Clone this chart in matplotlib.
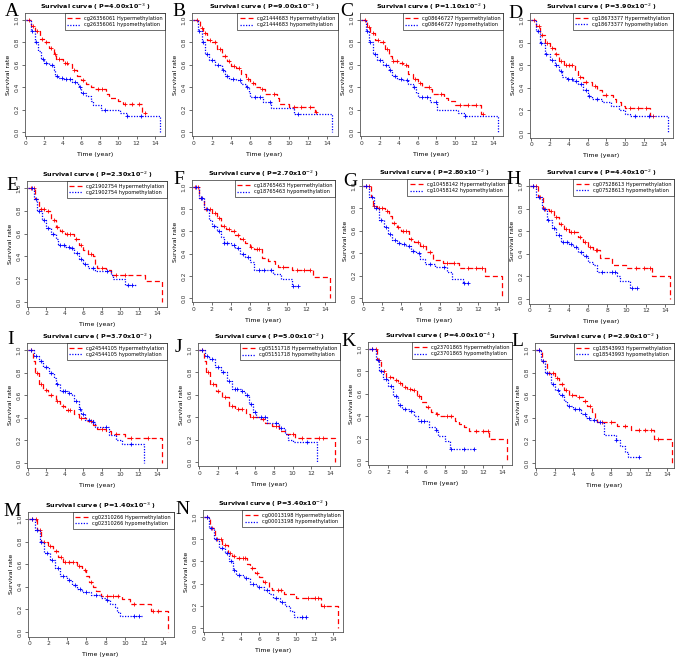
import numpy as np
import matplotlib
matplotlib.use("Agg")
import matplotlib.pyplot as plt

# panel meta
letters = ["A", "B", "C", "D", "E", "F", "G", "H", "I", "J", "K", "L", "M", "N"]
probes = ["cg26356061", "cg21444683", "cg08646727", "cg18673377", "cg21902754",
          "cg18765463", "cg10458142", "cg07528613", "cg24544105", "cg05151718",
          "cg23701865", "cg18543993", "cg02310266", "cg00013198"]
p_mant = ["4.00", "9.00", "1.10", "3.90", "2.30", "2.70", "2.80", "4.40",
          "3.70", "5.00", "4.00", "2.90", "1.40", "3.40"]
p_exp = ["-3", "-3", "-2", "-2", "-2", "-2", "-2", "-2", "-2", "-2", "-4", "-2", "-3", "-2"]

# step curves: (time, survival from that time on)
A_hyper = [(0, 1.0), (0.5, 0.95), (1, 0.9), (1.5, 0.83), (2, 0.8), (2.5, 0.75), (3, 0.7), (3.3, 0.65),
           (4, 0.62), (4.5, 0.61), (5, 0.55), (5.5, 0.5), (6, 0.46), (6.5, 0.43), (7, 0.4), (7.5, 0.38),
           (8.7, 0.34), (9, 0.3), (10, 0.28), (10.5, 0.25), (12.6, 0.17), (13, 0.17)]
A_hypo = [(0, 1.0), (0.5, 0.9), (1, 0.8), (1.3, 0.72), (1.6, 0.65), (2, 0.62), (2.5, 0.6), (3, 0.55),
          (3.2, 0.5), (3.5, 0.48), (4, 0.47), (5, 0.45), (5.5, 0.43), (5.8, 0.4), (6, 0.35), (6.5, 0.32),
          (7, 0.28), (7.3, 0.24), (8.1, 0.2), (10.2, 0.17), (11, 0.14), (14.5, 0.0)]
A_hyper_cens = [0.3, 0.8, 1.2, 1.7, 2.2, 2.7, 3.1, 3.6, 4.2, 4.4, 5.2, 6.2, 7.8, 8.3, 10.7, 11.5, 12.3, 12.9]
A_hypo_cens = [0.7, 1.1, 1.8, 2.2, 2.8, 3.4, 3.9, 4.3, 4.8, 5.3, 5.9, 6.2, 8.6, 11.0, 12.5]

B_hyper = [(0, 1.0), (0.7, 0.93), (1, 0.88), (1.5, 0.82), (2, 0.8), (2.5, 0.74), (3, 0.68), (3.5, 0.63),
           (4, 0.59), (4.5, 0.57), (5, 0.52), (5.5, 0.47), (6, 0.44), (6.5, 0.4), (7, 0.38), (7.5, 0.34),
           (8.8, 0.3), (9, 0.25), (10, 0.22), (12.7, 0.18), (13, 0.18)]
B_hypo = [(0, 1.0), (0.5, 0.9), (0.9, 0.8), (1.3, 0.7), (1.7, 0.64), (2.3, 0.6), (3, 0.55), (3.3, 0.5),
          (3.8, 0.47), (4.5, 0.46), (5, 0.43), (5.5, 0.4), (5.8, 0.35), (6, 0.31), (7.3, 0.27), (8.1, 0.21),
          (10.5, 0.16), (14.5, 0.0)]
B_hyper_cens = [0.4, 0.9, 1.3, 1.8, 2.3, 2.8, 3.3, 3.8, 4.3, 4.8, 5.7, 6.3, 7.2, 8.5, 10.5, 11.3, 12.2, 12.9]
B_hypo_cens = [0.6, 1.0, 1.5, 2.0, 2.6, 3.1, 3.6, 4.2, 4.9, 5.6, 6.5, 7.0, 8.0, 11.0]

C_hyper = [(0, 1.0), (0.6, 0.94), (1, 0.88), (1.5, 0.82), (2, 0.8), (2.5, 0.74), (3, 0.68), (3.3, 0.63),
           (4, 0.62), (4.5, 0.6), (5, 0.52), (5.5, 0.47), (6, 0.44), (6.5, 0.4), (7.3, 0.38), (7.5, 0.34),
           (8.8, 0.3), (9.2, 0.28), (10, 0.24), (12.7, 0.16), (13, 0.16)]
C_hypo = [(0, 1.0), (0.5, 0.9), (0.9, 0.8), (1.3, 0.7), (1.7, 0.64), (2.3, 0.6), (3, 0.55), (3.3, 0.5),
          (3.8, 0.47), (4.5, 0.46), (5, 0.43), (5.5, 0.4), (5.8, 0.35), (6, 0.31), (7.3, 0.27), (8.1, 0.2),
          (10.3, 0.17), (11, 0.14), (14.5, 0.0)]
C_hyper_cens = [0.4, 0.9, 1.3, 1.8, 2.3, 2.8, 3.4, 3.8, 4.3, 4.8, 5.7, 6.3, 7.2, 8.5, 10.5, 11.3, 12.2, 12.9]
C_hypo_cens = [0.6, 1.0, 1.5, 2.0, 2.6, 3.1, 3.6, 4.2, 4.9, 5.6, 6.5, 7.0, 8.0, 11.0]

D_hyper = [(0, 1.0), (0.5, 0.95), (1, 0.87), (1.5, 0.8), (2, 0.75), (2.5, 0.7), (3, 0.64), (3.5, 0.6),
           (4.7, 0.55), (5, 0.5), (5.5, 0.45), (6.5, 0.42), (7, 0.38), (7.5, 0.34), (8.7, 0.3), (9, 0.27),
           (9.5, 0.24), (10, 0.22), (12.6, 0.15), (13, 0.15)]
D_hypo = [(0, 1.0), (0.5, 0.9), (1, 0.8), (1.5, 0.7), (2, 0.65), (2.5, 0.6), (3, 0.55), (3.3, 0.5),
          (3.8, 0.48), (4.5, 0.46), (5, 0.43), (5.5, 0.38), (6, 0.33), (6.5, 0.3), (7.5, 0.27), (8.5, 0.24),
          (9.3, 0.2), (10, 0.17), (10.5, 0.15), (14.5, 0.0)]
D_hyper_cens = [0.3, 0.8, 1.2, 1.7, 2.2, 2.7, 3.2, 3.7, 4.0, 4.4, 5.2, 5.8, 6.8, 8.0, 10.5, 11.3, 12.2, 12.9]
D_hypo_cens = [0.7, 1.1, 1.6, 2.2, 2.7, 3.2, 3.9, 4.4, 4.8, 5.3, 5.8, 6.2, 7.0, 11.0, 12.5]

E_hyper = [(0, 1.0), (0.8, 0.9), (1.2, 0.82), (2, 0.8), (2.5, 0.72), (3, 0.66), (3.5, 0.62), (4, 0.6),
           (5, 0.55), (5.5, 0.5), (6, 0.46), (6.5, 0.42), (7, 0.4), (7.3, 0.33), (7.5, 0.3), (8.5, 0.28),
           (9, 0.24), (12.7, 0.18), (14.5, 0.0)]
E_hypo = [(0, 1.0), (0.6, 0.9), (1, 0.8), (1.5, 0.72), (2, 0.65), (2.5, 0.6), (3, 0.55), (3.3, 0.5),
          (4, 0.48), (4.5, 0.47), (5, 0.43), (5.5, 0.38), (6, 0.33), (6.5, 0.3), (7.3, 0.27), (9, 0.24),
          (9.2, 0.2), (10.5, 0.15), (11.7, 0.15)]
E_hyper_cens = [0.3, 0.7, 1.4, 1.7, 2.2, 2.8, 3.2, 3.7, 4.2, 4.6, 5.2, 5.8, 6.8, 8.0, 9.6, 10.5]
E_hypo_cens = [0.4, 0.9, 1.2, 1.7, 2.2, 2.7, 3.5, 3.9, 4.4, 4.8, 5.3, 5.8, 6.2, 7.0, 8.6, 10.8, 11.3]

F_hyper = [(0, 1.0), (0.6, 0.9), (1.2, 0.8), (2, 0.77), (2.5, 0.72), (3, 0.65), (3.5, 0.62), (4, 0.6),
           (4.5, 0.57), (5, 0.53), (5.5, 0.5), (6, 0.46), (6.5, 0.44), (7.3, 0.36), (8, 0.33), (8.7, 0.3),
           (9, 0.28), (10.5, 0.25), (12.7, 0.19), (14.5, 0.0)]
F_hypo = [(0, 1.0), (0.6, 0.9), (1.2, 0.8), (1.7, 0.7), (2, 0.65), (2.5, 0.6), (3, 0.55), (3.3, 0.5),
          (4, 0.48), (4.5, 0.45), (5, 0.4), (5.5, 0.37), (6, 0.32), (6.5, 0.25), (8.5, 0.22), (9.3, 0.17),
          (10.5, 0.11), (11.1, 0.11)]
F_hyper_cens = [0.2, 0.5, 0.9, 1.4, 1.8, 2.3, 2.8, 3.3, 3.8, 4.3, 4.8, 5.3, 6.2, 6.8, 7.0, 9.5, 11.0, 11.8, 12.4]
F_hypo_cens = [0.3, 0.8, 1.0, 1.5, 2.2, 2.8, 3.3, 3.6, 4.3, 4.8, 5.3, 5.8, 7.0, 7.5, 8.3, 10.6, 11.1]

G_hyper = [(0, 1.0), (0.8, 0.9), (1, 0.82), (1.5, 0.8), (2.3, 0.78), (2.7, 0.73), (3, 0.67), (3.5, 0.63),
           (4, 0.6), (4.8, 0.53), (5.3, 0.5), (6, 0.46), (6.6, 0.41), (7.3, 0.34), (8.4, 0.31), (10, 0.27),
           (12.7, 0.2), (14.5, 0.0)]
G_hypo = [(0, 1.0), (0.6, 0.9), (1.2, 0.8), (1.7, 0.7), (2.2, 0.63), (2.6, 0.57), (3, 0.52), (3.5, 0.49),
          (4, 0.48), (4.5, 0.46), (5, 0.42), (5.5, 0.4), (6, 0.35), (6.5, 0.3), (7.5, 0.28), (8.8, 0.23),
          (9.3, 0.17), (10.4, 0.13), (11, 0.13)]
G_hyper_cens = [0.3, 0.6, 1.2, 1.7, 2.0, 2.5, 3.2, 3.7, 4.2, 4.5, 5.0, 5.7, 6.3, 7.0, 8.8, 9.5, 11.0, 11.8, 12.4]
G_hypo_cens = [0.3, 0.9, 1.4, 1.9, 2.4, 2.8, 3.3, 3.8, 4.3, 4.8, 5.2, 5.8, 7.0, 8.5, 10.6, 11.0]

H_hyper = [(0, 1.0), (0.8, 0.9), (1.3, 0.8), (2, 0.78), (2.5, 0.73), (3, 0.66), (3.5, 0.62), (4, 0.59),
           (5, 0.55), (5.5, 0.5), (6, 0.46), (6.5, 0.43), (7.3, 0.36), (8.5, 0.3), (10, 0.27), (12.7, 0.2),
           (14.5, 0.0)]
H_hypo = [(0, 1.0), (0.6, 0.9), (1.2, 0.8), (1.8, 0.7), (2.3, 0.63), (2.7, 0.57), (3.2, 0.5), (4, 0.49),
          (4.5, 0.46), (5, 0.42), (5.5, 0.38), (6, 0.33), (6.5, 0.3), (7, 0.24), (9, 0.2), (9.3, 0.16),
          (10.4, 0.1), (11.1, 0.1)]
H_hyper_cens = [0.3, 0.6, 1.0, 1.6, 2.2, 2.7, 3.2, 3.7, 4.2, 4.6, 5.2, 5.7, 6.2, 6.8, 7.0, 11.0, 11.8, 12.4]
H_hypo_cens = [0.3, 0.9, 1.4, 1.9, 2.5, 3.0, 3.4, 3.8, 4.3, 4.8, 5.3, 5.8, 7.5, 8.5, 8.8, 10.6, 11.1]

I_hyper = [(0, 1.0), (0.5, 0.9), (0.8, 0.8), (1.2, 0.7), (1.6, 0.65), (2.2, 0.6), (3, 0.55), (3.5, 0.5),
           (4, 0.47), (5, 0.43), (5.5, 0.4), (6.3, 0.37), (7, 0.34), (7.5, 0.3), (8.5, 0.28), (9, 0.26),
           (10.5, 0.22), (14.5, 0.0)]
I_hypo = [(0, 1.0), (0.7, 0.95), (1.2, 0.9), (1.6, 0.85), (2.3, 0.8), (2.8, 0.75), (3, 0.7), (3.5, 0.64),
          (4.3, 0.62), (4.8, 0.6), (5, 0.55), (5.5, 0.48), (5.8, 0.43), (6.2, 0.38), (7, 0.36), (7.3, 0.32),
          (8.8, 0.25), (9.5, 0.2), (10.2, 0.17), (12.6, 0.0)]
I_hyper_cens = [0.3, 1.0, 1.4, 1.9, 2.5, 3.2, 3.8, 4.3, 4.6, 5.8, 6.8, 8.0, 9.5, 11.2, 13.0]
I_hypo_cens = [0.3, 0.9, 1.4, 2.0, 2.5, 3.2, 3.8, 4.0, 4.5, 5.2, 5.6, 6.0, 6.6, 7.0, 8.5, 11.2]

J_hyper = [(0, 1.0), (0.5, 0.9), (0.8, 0.8), (1.2, 0.7), (1.8, 0.63), (2.5, 0.58), (3.2, 0.5), (3.8, 0.47),
           (5, 0.43), (5.5, 0.4), (6.5, 0.38), (7, 0.35), (7.8, 0.32), (8.5, 0.28), (9.2, 0.25), (10.3, 0.21),
           (14.5, 0.0)]
J_hypo = [(0, 1.0), (0.6, 0.95), (1.1, 0.92), (1.7, 0.85), (2.3, 0.8), (3, 0.72), (3.5, 0.65), (4.5, 0.63),
          (4.9, 0.6), (5.3, 0.52), (5.8, 0.45), (6.1, 0.4), (7.3, 0.35), (8.5, 0.3), (9.2, 0.25), (9.5, 0.2),
          (10, 0.18), (12.6, 0.0)]
J_hyper_cens = [0.3, 1.0, 1.5, 2.0, 2.8, 3.5, 4.2, 4.6, 5.8, 6.8, 8.2, 10.0, 11.0, 12.8, 13.2]
J_hypo_cens = [0.3, 0.9, 1.4, 2.0, 2.6, 3.2, 3.8, 4.1, 4.6, 5.1, 5.6, 6.0, 6.6, 7.0, 8.2, 8.8, 11.5]

K_hyper = [(0, 1.0), (0.8, 0.9), (1.3, 0.8), (1.8, 0.75), (2.5, 0.72), (3, 0.7), (3.5, 0.66), (4, 0.64),
           (4.5, 0.63), (5, 0.58), (5.5, 0.53), (6, 0.48), (6.5, 0.44), (7, 0.42), (7.5, 0.4), (9, 0.36),
           (9.5, 0.33), (10, 0.3), (10.5, 0.27), (12.6, 0.2), (14.5, 0.0)]
K_hypo = [(0, 1.0), (0.7, 0.9), (1.1, 0.8), (1.5, 0.73), (2, 0.67), (2.5, 0.58), (3, 0.5), (3.5, 0.46),
          (4.2, 0.45), (4.7, 0.4), (5.2, 0.36), (6.3, 0.3), (7, 0.28), (7.3, 0.22), (8, 0.18), (8.5, 0.11),
          (11, 0.11)]
K_hyper_cens = [0.3, 0.7, 1.1, 1.6, 2.2, 2.8, 3.3, 3.8, 4.3, 4.7, 5.3, 6.2, 7.2, 8.2, 8.6, 11.3, 12.0, 12.5]
K_hypo_cens = [0.3, 0.9, 1.3, 1.8, 2.3, 2.8, 3.3, 3.8, 4.4, 5.5, 5.8, 7.0, 8.6, 10.0, 11.0]

L_hyper = [(0, 1.0), (0.6, 0.9), (1.2, 0.8), (2, 0.75), (2.5, 0.7), (3, 0.65), (3.5, 0.6), (4.3, 0.58),
           (5, 0.55), (5.5, 0.5), (6, 0.45), (6.3, 0.4), (6.5, 0.36), (8.7, 0.33), (10.2, 0.29), (12.6, 0.21),
           (14.5, 0.0)]
L_hypo = [(0, 1.0), (0.5, 0.9), (1, 0.8), (1.6, 0.7), (2, 0.65), (2.5, 0.6), (3, 0.55), (3.3, 0.5),
          (4, 0.48), (4.8, 0.43), (5.3, 0.4), (5.8, 0.38), (6.5, 0.36), (7, 0.35), (7.3, 0.25), (8.5, 0.2),
          (9, 0.15), (9.5, 0.1), (9.8, 0.05), (11.1, 0.05)]
L_hyper_cens = [0.3, 0.8, 1.4, 1.8, 2.2, 2.8, 3.2, 3.8, 4.6, 5.2, 5.8, 7.0, 8.0, 9.5, 11.0, 11.7, 12.3, 13.0]
L_hypo_cens = [0.3, 0.8, 1.2, 1.8, 2.3, 2.8, 3.5, 4.2, 4.6, 5.2, 5.7, 6.2, 6.8, 8.6, 11.0]

M_hyper = [(0, 1.0), (0.8, 0.9), (1.3, 0.8), (2, 0.76), (2.5, 0.72), (3, 0.66), (3.5, 0.62), (5, 0.58),
           (5.5, 0.55), (6, 0.5), (6.3, 0.44), (6.7, 0.4), (7, 0.36), (7.5, 0.32), (9.7, 0.29), (10.5, 0.25),
           (12.7, 0.19), (14.5, 0.0)]
M_hypo = [(0, 1.0), (0.6, 0.9), (1.1, 0.8), (1.6, 0.7), (2.2, 0.64), (2.7, 0.57), (3.2, 0.5), (4, 0.46),
          (4.5, 0.42), (5, 0.38), (5.5, 0.35), (6.5, 0.33), (7.5, 0.3), (8, 0.28), (8.5, 0.25), (9, 0.22),
          (9.2, 0.18), (9.5, 0.14), (11.8, 0.14)]
M_hyper_cens = [0.3, 0.7, 1.1, 1.6, 2.2, 2.8, 3.3, 3.8, 4.2, 4.6, 5.2, 5.8, 6.5, 8.2, 8.8, 9.3, 11.0, 13.0, 13.5]
M_hypo_cens = [0.3, 0.8, 1.3, 1.9, 2.4, 3.0, 3.5, 4.2, 4.8, 5.3, 6.0, 7.0, 8.2, 11.0, 11.5]

N_hyper = [(0, 1.0), (0.7, 0.9), (1.2, 0.8), (2, 0.75), (2.6, 0.68), (3, 0.65), (3.5, 0.63), (4.7, 0.58),
           (5, 0.54), (5.5, 0.5), (6, 0.46), (6.4, 0.41), (7, 0.36), (7.4, 0.34), (8.7, 0.31), (10, 0.27),
           (12.7, 0.2), (14.5, 0.0)]
N_hypo = [(0, 1.0), (0.5, 0.9), (1.1, 0.8), (1.6, 0.72), (2.3, 0.68), (2.7, 0.6), (3.1, 0.52), (3.5, 0.48),
          (4.3, 0.45), (5, 0.4), (5.8, 0.37), (6.5, 0.34), (7, 0.31), (7.5, 0.27), (8.2, 0.23), (8.8, 0.2),
          (9.3, 0.15), (9.8, 0.1), (11.1, 0.1)]
N_hyper_cens = [0.3, 0.9, 1.4, 1.8, 2.3, 2.8, 3.3, 3.8, 4.2, 4.5, 5.2, 5.8, 6.6, 8.0, 8.4, 11.3, 12.0, 12.4, 13.0]
N_hypo_cens = [0.3, 0.8, 1.3, 1.9, 2.5, 2.9, 3.3, 3.8, 4.6, 5.3, 6.0, 6.8, 7.8, 8.5, 10.6, 11.1]

hyper_curves = [A_hyper, B_hyper, C_hyper, D_hyper, E_hyper, F_hyper, G_hyper,
                H_hyper, I_hyper, J_hyper, K_hyper, L_hyper, M_hyper, N_hyper]
hypo_curves = [A_hypo, B_hypo, C_hypo, D_hypo, E_hypo, F_hypo, G_hypo,
               H_hypo, I_hypo, J_hypo, K_hypo, L_hypo, M_hypo, N_hypo]
hyper_cens = [A_hyper_cens, B_hyper_cens, C_hyper_cens, D_hyper_cens, E_hyper_cens, F_hyper_cens,
              G_hyper_cens, H_hyper_cens, I_hyper_cens, J_hyper_cens, K_hyper_cens, L_hyper_cens,
              M_hyper_cens, N_hyper_cens]
hypo_cens = [A_hypo_cens, B_hypo_cens, C_hypo_cens, D_hypo_cens, E_hypo_cens, F_hypo_cens,
             G_hypo_cens, H_hypo_cens, I_hypo_cens, J_hypo_cens, K_hypo_cens, L_hypo_cens,
             M_hypo_cens, N_hypo_cens]

# layout (pixels): where t=0, t=14, S=1.0 and S=0.0 fall in each panel
W, H = 677, 660
px_t0 = [26, 193, 361, 531, 28, 193, 363, 530, 28, 199, 369, 536, 29, 204]
px_t14 = [155, 327, 493, 663, 157, 325, 497, 665, 157, 330, 502, 667, 163, 333]
py_s1 = [20, 20, 20, 20, 188, 187, 186, 186, 350, 350, 349, 350, 519, 517]
py_s0 = [132, 132, 132, 133, 302, 298, 298, 299, 463, 462, 461, 463, 632, 628]
letter_xy = [(12, 11), (179, 11), (347, 11), (515, 13), (12, 185), (179, 180), (350, 182),
             (514, 179), (11, 339), (178, 347), (348, 341), (517, 342), (12, 511), (182, 510)]
XMIN, XMAX = -0.15, 15.1
YMIN, YMAX = -0.04, 1.06

RED = "#ff0000"
BLUE = "#0000ff"


def step_value(curve, t):
    ts = np.array([c[0] for c in curve])
    ss = np.array([c[1] for c in curve])
    i = np.searchsorted(ts, t, side="right") - 1
    return ss[i]


def draw_km(ax, curve, cens, color, ls, label):
    ts = [c[0] for c in curve]
    ss = [c[1] for c in curve]
    ax.step(ts, ss, where="post", color=color, ls=ls, lw=0.9, label=label)
    cy = [step_value(curve, t) for t in cens]
    ax.plot(cens, cy, ls="none", marker="+", ms=3.5, mew=0.6, color=color)


fig = plt.figure(figsize=(W / 100, H / 100), dpi=100)

for k in range(14):
    pxyr = (px_t14[k] - px_t0[k]) / 14.0
    pxu = py_s0[k] - py_s1[k]
    l = px_t0[k] + XMIN * pxyr
    r = min(px_t0[k] + XMAX * pxyr, 674)
    xmax = (r - px_t0[k]) / pxyr
    t = py_s1[k] - (YMAX - 1) * pxu
    b = py_s0[k] - YMIN * pxu
    ax = fig.add_axes([l / W, 1 - b / H, (r - l) / W, (b - t) / H])

    draw_km(ax, hyper_curves[k], hyper_cens[k], RED, (0, (4, 2.5)), probes[k] + " Hypermethylation")
    draw_km(ax, hypo_curves[k], hypo_cens[k], BLUE, (0, (1, 1.2)), probes[k] + " hypomethylation")

    ax.set_xlim(XMIN, xmax)
    ax.set_ylim(YMIN, YMAX)
    ax.set_xticks(np.arange(0, 15, 2))
    ax.set_yticks(np.arange(0, 1.01, 0.2))
    ax.set_yticklabels(["0.0", "0.2", "0.4", "0.6", "0.8", "1.0"], rotation=90, va="center")
    ax.tick_params(labelsize=4.3, length=2, width=0.5, pad=1.5, colors="#333333")
    for s in ax.spines.values():
        s.set_linewidth(0.6)
        s.set_color("#555555")
    ax.set_xlabel("Time (year)", fontsize=4.5, labelpad=4)
    ax.set_ylabel("Survival rate", fontsize=4.5, labelpad=3)
    ax.set_title("Survival curve ( P=" + p_mant[k] + "x10$^{" + p_exp[k] + "}$ )",
                 fontsize=4.6, fontweight="bold", pad=3)
    leg = ax.legend(loc="upper right", fontsize=3.6, handlelength=2.6, borderaxespad=0,
                    frameon=True, fancybox=False, borderpad=0.5, labelspacing=0.3)
    leg.get_frame().set_edgecolor("black")
    leg.get_frame().set_linewidth(0.5)

    lx, ly = letter_xy[k]
    fig.text(lx / W, 1 - ly / H, letters[k], fontsize=14,
             family="Liberation Serif", ha="center", va="center")

fig.savefig("out.png", dpi=100)
